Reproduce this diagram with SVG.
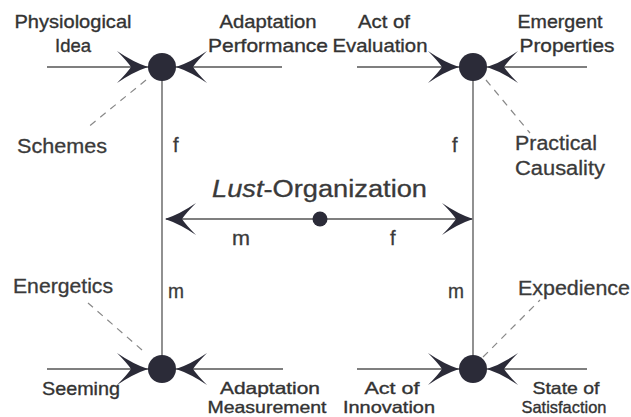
<svg xmlns="http://www.w3.org/2000/svg" width="631" height="417" viewBox="0 0 631 417">
<style>
.lbl{font-family:"Liberation Sans",Arial,sans-serif;font-size:19px;fill:#333;stroke:#333;stroke-width:0.35;}
.sm{font-size:16.5px;}
.hl{font-family:"Liberation Sans",Arial,sans-serif;font-size:20px;fill:#3a3a3a;stroke:#3a3a3a;stroke-width:0.3;}
.ln{stroke:#555;stroke-width:1.3;fill:none;}
.ds{stroke:#888;stroke-width:1.2;stroke-dasharray:7 6;fill:none;}
.dot{fill:#2b2b38;}
.ah{fill:#2b2b38;}
</style>
<defs>
<path id="arr" d="M-31,-16 Q-15,-5 0,0 Q-15,5 -31,16 Q-21,6 -17,0 Q-21,-6 -31,-16 Z"/>
</defs>
<rect width="631" height="417" fill="#fff"/>
<g id="connectors">
<line class="ln" x1="47" y1="67" x2="282" y2="67"/>
<line class="ln" x1="357" y1="67" x2="587" y2="67"/>
<line class="ln" x1="47" y1="369" x2="283" y2="369"/>
<line class="ln" x1="357" y1="369" x2="587" y2="369"/>
<line class="ln" x1="162" y1="67" x2="162" y2="369"/>
<line class="ln" x1="473" y1="67" x2="473" y2="369"/>
<line class="ln" x1="166" y1="219" x2="472" y2="219"/>
<line class="ds" x1="146" y1="80" x2="87" y2="128"/>
<line class="ds" x1="486" y1="80" x2="530" y2="133"/>
<line class="ds" x1="142" y1="350" x2="88" y2="303"/>
<line class="ds" x1="483" y1="357" x2="540" y2="300"/>
<use href="#arr" class="ah" transform="translate(148,67)"/>
<use href="#arr" class="ah" transform="translate(176,67) rotate(180)"/>
<use href="#arr" class="ah" transform="translate(459,67)"/>
<use href="#arr" class="ah" transform="translate(487,67) rotate(180)"/>
<use href="#arr" class="ah" transform="translate(148,369)"/>
<use href="#arr" class="ah" transform="translate(176,369) rotate(180)"/>
<use href="#arr" class="ah" transform="translate(459,369)"/>
<use href="#arr" class="ah" transform="translate(487,369) rotate(180)"/>
<use href="#arr" class="ah" transform="translate(165,219) rotate(180)"/>
<use href="#arr" class="ah" transform="translate(473,219)"/>
</g>
<g id="node-top-left">
<circle class="dot" cx="162" cy="67" r="14"/>
</g>
<g id="node-top-right">
<circle class="dot" cx="473" cy="67" r="14"/>
</g>
<g id="node-bottom-left">
<circle class="dot" cx="162" cy="369" r="14"/>
</g>
<g id="node-bottom-right">
<circle class="dot" cx="473" cy="369" r="14"/>
</g>
<g id="node-center">
<circle class="dot" cx="320" cy="219" r="7.5"/>
<text class="hl" x="212" y="197" textLength="215" lengthAdjust="spacingAndGlyphs" style="font-size:23px"><tspan font-style="italic">Lust</tspan>-Organization</text>
<text class="hl" x="232" y="245" textLength="18" lengthAdjust="spacingAndGlyphs">m</text>
<text class="hl" x="390" y="245">f</text>
</g>
<g id="labels-top-left">
<text class="lbl" x="73" y="28" text-anchor="middle" textLength="117" lengthAdjust="spacingAndGlyphs">Physiological</text>
<text class="lbl" x="73" y="52" text-anchor="middle" textLength="36" lengthAdjust="spacingAndGlyphs">Idea</text>
<text class="lbl" x="268" y="28" text-anchor="middle" textLength="97" lengthAdjust="spacingAndGlyphs">Adaptation</text>
<text class="lbl" x="268" y="52" text-anchor="middle" textLength="120" lengthAdjust="spacingAndGlyphs">Performance</text>
<text class="hl" x="62" y="153" text-anchor="middle" textLength="90" lengthAdjust="spacingAndGlyphs">Schemes</text>
<text class="hl" x="173" y="152">f</text>
</g>
<g id="labels-top-right">
<text class="lbl" x="384" y="28" text-anchor="middle" textLength="52" lengthAdjust="spacingAndGlyphs">Act of</text>
<text class="lbl" x="380" y="52" text-anchor="middle" textLength="95" lengthAdjust="spacingAndGlyphs">Evaluation</text>
<text class="lbl" x="560" y="28" text-anchor="middle" textLength="85" lengthAdjust="spacingAndGlyphs">Emergent</text>
<text class="lbl" x="567" y="52" text-anchor="middle" textLength="95" lengthAdjust="spacingAndGlyphs">Properties</text>
<text class="hl" x="515" y="150" textLength="82" lengthAdjust="spacingAndGlyphs">Practical</text>
<text class="hl" x="515" y="175" textLength="90" lengthAdjust="spacingAndGlyphs">Causality</text>
<text class="hl" x="452" y="152">f</text>
</g>
<g id="labels-bottom-left">
<text class="hl" x="13" y="293" textLength="100" lengthAdjust="spacingAndGlyphs">Energetics</text>
<text class="hl" x="168" y="298" textLength="16" lengthAdjust="spacingAndGlyphs">m</text>
<text class="lbl" x="81" y="395" text-anchor="middle" textLength="78" lengthAdjust="spacingAndGlyphs">Seeming</text>
<text class="lbl sm" x="270" y="394" text-anchor="middle" textLength="100" lengthAdjust="spacingAndGlyphs">Adaptation</text>
<text class="lbl sm" x="267" y="413" text-anchor="middle" textLength="119" lengthAdjust="spacingAndGlyphs">Measurement</text>
</g>
<g id="labels-bottom-right">
<text class="hl" x="448" y="298" textLength="16" lengthAdjust="spacingAndGlyphs">m</text>
<text class="hl" x="518" y="295" textLength="112" lengthAdjust="spacingAndGlyphs">Expedience</text>
<text class="lbl sm" x="392" y="394" text-anchor="middle" textLength="55" lengthAdjust="spacingAndGlyphs">Act of</text>
<text class="lbl sm" x="389" y="413" text-anchor="middle" textLength="92" lengthAdjust="spacingAndGlyphs">Innovation</text>
<text class="lbl sm" x="566" y="394" text-anchor="middle" textLength="67" lengthAdjust="spacingAndGlyphs">State of</text>
<text class="lbl sm" x="564" y="413" text-anchor="middle" textLength="85" lengthAdjust="spacingAndGlyphs">Satisfaction</text>
</g>
</svg>
